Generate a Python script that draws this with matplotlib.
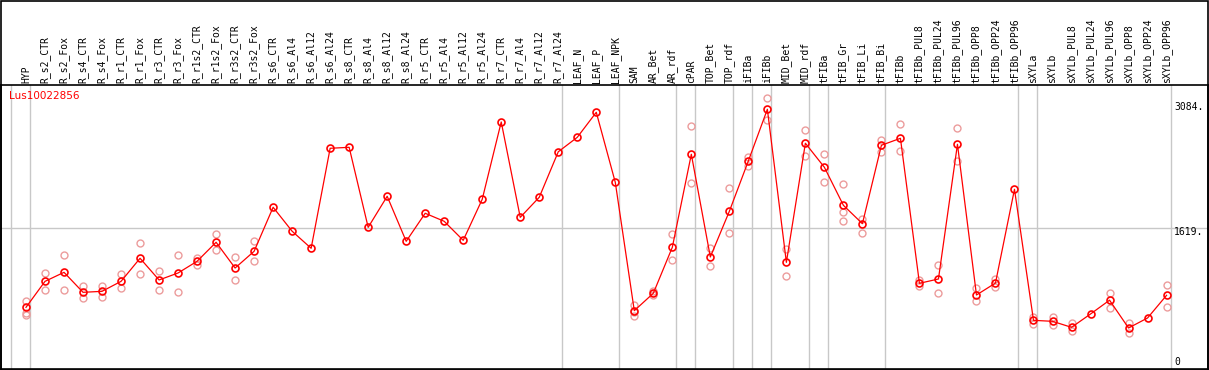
import matplotlib
matplotlib.use("Agg")
import matplotlib.pyplot as plt
from matplotlib.patches import Rectangle
import matplotlib.transforms as mtransforms

# ---------------- data ----------------
gene = "Lus10022856"

categories = [
    "HYP", "R_s2_CTR", "R_s2_Fox", "R_s4_CTR", "R_s4_Fox", "R_r1_CTR", "R_r1_Fox",
    "R_r3_CTR", "R_r3_Fox", "R_r1s2_CTR", "R_r1s2_Fox", "R_r3s2_CTR", "R_r3s2_Fox",
    "R_s6_CTR", "R_s6_Al4", "R_s6_Al12", "R_s6_Al24",
    "R_s8_CTR", "R_s8_Al4", "R_s8_Al12", "R_s8_Al24",
    "R_r5_CTR", "R_r5_Al4", "R_r5_Al12", "R_r5_Al24",
    "R_r7_CTR", "R_r7_Al4", "R_r7_Al12", "R_r7_Al24",
    "LEAF_N", "LEAF_P", "LEAF_NPK", "SAM", "AR_Bet", "AR_rdf", "cPAR",
    "TOP_Bet", "TOP_rdf", "iFIBa", "iFIBb", "MID_Bet", "MID_rdf", "tFIBa",
    "tFIB_Gr", "tFIB_Li", "tFIB_Bi", "tFIBb",
    "tFIBb_PUL8", "tFIBb_PUL24", "tFIBb_PUL96", "tFIBb_OPP8", "tFIBb_OPP24", "tFIBb_OPP96",
    "sXYLa", "sXYLb",
    "sXYLb_PUL8", "sXYLb_PUL24", "sXYLb_PUL96", "sXYLb_OPP8", "sXYLb_OPP24", "sXYLb_OPP96",
]

means = [
    646, 966, 1077, 831, 843, 966, 1250,
    983, 1069, 1213, 1447, 1130, 1336,
    1878, 1583, 1373, 2604,
    2616, 1631, 2013, 1459,
    1804, 1705, 1471, 1976,
    2928, 1754, 2001, 2561,
    2739, 3047, 2185, 605, 819, 1385, 2530,
    1266, 1828, 2448, 3084, 1200, 2666, 2370,
    1902, 1676, 2641, 2727,
    942, 995, 2653, 798, 945, 2099,
    486, 474,
    400, 564, 734, 392, 515, 794,
]

replicates = [
    [728, 580, 555], [1065, 859], [1287, 859], [909, 761], [909, 777], [1056, 884], [1434, 1056],
    [1093, 859], [1287, 831], [1250, 1167], [1545, 1348], [1262, 983], [1459, 1213],
    [], [], [], [],
    [], [], [], [],
    [], [], [], [],
    [], [], [], [],
    [], [], [], [675, 589, 545], [851, 798], [1549, 1225], [2875, 2173],
    [1380, 1151], [2112, 1557], [2501, 2386], [3220, 2953], [1368, 1035], [2826, 2506], [2530, 2185],
    [2162, 1823, 1706], [1730, 1565], [2706, 2555], [2900, 2567],
    [983, 909], [1163, 819], [2854, 2448], [884, 720], [999, 893], [],
    [523, 444], [523, 428],
    [453, 351], [], [820, 644], [457, 334], [], [917, 654],
]

# index of the last category in each group (separator lines drawn after them)
group_ends = [-1, 0, 28, 31, 34, 35, 37, 38, 39, 41, 42, 45, 52, 53, 60]

ytick_values = [0, 1619, 3084]
ytick_labels = ["0", "1619.", "3084."]

# ---------------- figure ----------------
W, H = 1209, 370
fig = plt.figure(figsize=(W / 100, H / 100), dpi=100)
fig.patch.set_facecolor("white")

left, right, top, bottom = 1, 1208, 85, 369
ax = fig.add_axes([left / W, 1 - bottom / H, (right - left) / W, (bottom - top) / H])

x = list(range(len(categories)))
ax.set_xlim(-1.315, 62.18)
ax.set_ylim(-113, 3383)

# separators
sep_off = 0.21
for g in group_ends:
    ax.axvline(g + sep_off, color="#c8c8c8", lw=1.0, zorder=1)
ax.axhline(1619, color="#c8c8c8", lw=1.0, zorder=1)

# replicates
rx, ry = [], []
for i, reps in enumerate(replicates):
    for v in reps:
        rx.append(i)
        ry.append(v)
ax.plot(rx, ry, linestyle="none", marker="o", markersize=5.0, markerfacecolor="none",
        markeredgecolor="#ec9c9c", markeredgewidth=1.0, zorder=2)

# mean line
ax.plot(x, means, color="#ff0000", lw=0.9, marker="o", markersize=5.0,
        markerfacecolor="none", markeredgecolor="#ff0000", markeredgewidth=1.2, zorder=3)

# top category labels
ax.xaxis.tick_top()
ax.set_xticks(x)
ax.set_xticklabels(categories, rotation=90, family="DejaVu Sans Mono", fontsize=7,
                   va="bottom", ha="center")
ax.tick_params(axis="x", length=0, pad=1.5)
ax.set_yticks([])

# y value labels at the right (text offsets in points relative to each value)
label_x = (1174 - left) / (right - left)
trans = mtransforms.blended_transform_factory(ax.transAxes, ax.transData)
offsets_pt = {0: -1.4, 1619: -3.0, 3084: 1.5}
for v, lab in zip(ytick_values, ytick_labels):
    ax.annotate(lab, xy=(label_x, v), xycoords=trans,
                xytext=(0, offsets_pt[v]), textcoords="offset points",
                family="DejaVu Sans Mono", fontsize=7, va="center", ha="left",
                annotation_clip=False)

for s in ax.spines.values():
    s.set_color("black")
    s.set_linewidth(1.2)

# gene name
fig.text(9 / W, 1 - 91 / H, gene, color="#ff0000", fontsize=7.5, family="DejaVu Sans",
         va="top", ha="left")

# outer frame
fig.patches.append(Rectangle((0.5 / W, 0.5 / H), (W - 1.5) / W, (H - 1.5) / H,
                             transform=fig.transFigure, fill=False, edgecolor="black", lw=1.2))

fig.savefig("out.png", dpi=100)
